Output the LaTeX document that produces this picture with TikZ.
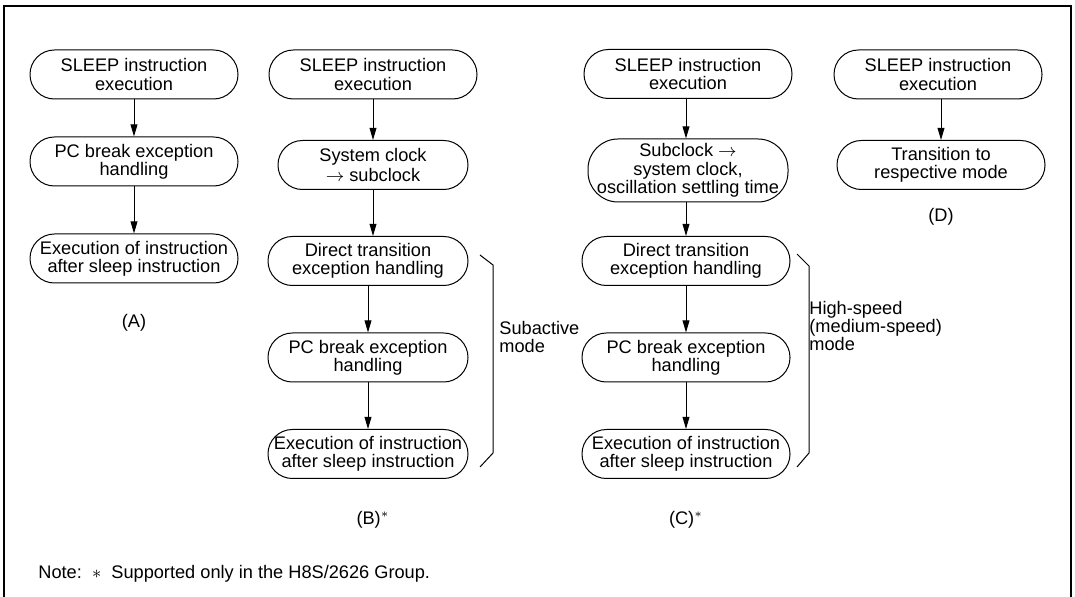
\documentclass[tikz,border=0pt]{standalone}
\usepackage{fontspec}
\setmainfont{Liberation Sans}
\usetikzlibrary{arrows.meta,positioning}
\newcommand{\txtsize}{\fontsize{9.1}{9.15}\selectfont}
\tikzset{stepbox/.style={draw,rounded corners=12.2pt,minimum width=104pt,minimum height=24.5pt,align=center,font=\txtsize,inner sep=1pt,line width=.5pt},
  arr/.style={-{Triangle[length=6pt,width=3.4pt]},line width=.5pt},
  lbl/.style={font=\txtsize,align=left,inner sep=0pt}}
\begin{document}
\begin{tikzpicture}[x=0.5pt,y=-0.5pt]
\useasboundingbox (0,0) rectangle (1075,597);
\clip (0,0) rectangle (1075,597);
\draw[line width=1pt] (4,605)--(4,6)--(1071,6)--(1071,605);
% (A)
\node[stepbox] (a1) at (134,74.5) {SLEEP instruction\\execution};
\node[stepbox] (a2) at (134,161.5) {PC break exception\\handling};
\node[stepbox] (a3) at (134,258.5) {Execution of instruction\\after sleep instruction};
\node[lbl] (la) at (134,323) {(A)};
\draw[arr] (a1)--(a2);
\draw[arr] (a2)--(a3);
% (B)
\node[stepbox] (b1) at (373,74.5) {SLEEP instruction\\execution};
\node[stepbox,minimum width=95pt] (b2) at (373,165) {System clock\\[.4pt]$\rightarrow$ subclock};
\node[stepbox,minimum width=100pt] (b3) at (368,261) {Direct transition\\exception handling};
\node[stepbox,minimum width=100pt] (b4) at (368,357.5) {PC break exception\\handling};
\node[stepbox,minimum width=100pt] (b5) at (368,454) {Execution of instruction\\after sleep instruction};
\node[lbl] (lb) at (373,520) {(B)$^{\ast}$};
\draw[arr] (b1)--(b2);
\draw[arr] (b2.south)--(b3.north-|b2.south);
\draw[arr] (b3)--(b4);
\draw[arr] (b4)--(b5);
\draw[line width=.5pt] (480,255)--(493,265)--(493,453)--(480,467);
\node[lbl,anchor=west] (sub) at (499,337) {Subactive\\mode};
% (C)
\node[stepbox] (c1) at (688,74) {SLEEP instruction\\execution};
\node[stepbox,minimum width=100pt,minimum height=31.5pt,rounded corners=15pt] (c2) at (688,170.5) {Subclock $\rightarrow$\\system clock,\\oscillation settling time};
\node[stepbox] (c3) at (686,261) {Direct transition\\exception handling};
\node[stepbox] (c4) at (686,357.5) {PC break exception\\handling};
\node[stepbox] (c5) at (686,454) {Execution of instruction\\after sleep instruction};
\node[lbl] (lc) at (686,520) {(C)$^{\ast}$};
\draw[arr] (c1.south-|686,0)--(c2.north-|686,0);
\draw[arr] (c2.south-|686,0)--(c3.north-|686,0);
\draw[arr] (c3)--(c4);
\draw[arr] (c4)--(c5);
\draw[line width=.5pt] (797,254)--(809,266)--(809,453)--(797,467);
\node[lbl,anchor=west] (high) at (809,326) {High-speed\\(medium-speed)\\mode};
% (D)
\node[stepbox] (d1) at (938,74.5) {SLEEP instruction\\execution};
\node[stepbox] (d2) at (941,165) {Transition to\\respective mode};
\node[lbl] (ld) at (941,217) {(D)};
\draw[arr] (d1.south-|941,0)--(d2);
% note
\node[lbl,anchor=west] (note) at (38,574) {Note:\ \ $\ast$\ \ Supported only in the H8S/2626 Group.};
\end{tikzpicture}
\end{document}
